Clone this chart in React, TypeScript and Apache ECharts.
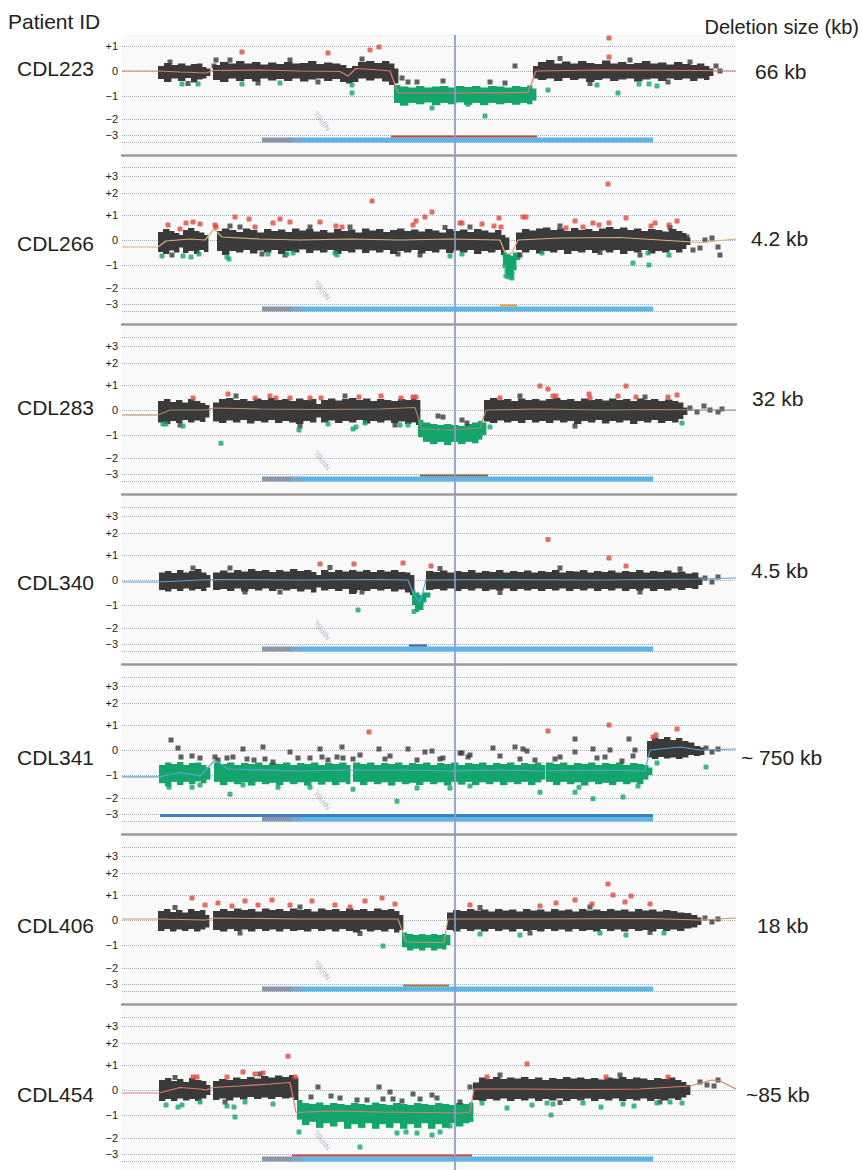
import React, { useEffect, useRef } from 'react';
import * as echarts from 'echarts';

// ---------------- data ----------------
const PATIENT_IDS = ['CDL223', 'CDL266', 'CDL283', 'CDL340', 'CDL341', 'CDL406', 'CDL454'];
const DELETION_SIZES = ['66 kb', '4.2 kb', '32 kb', '4.5 kb', '~ 750 kb', '18 kb', '~85 kb'];
const TICK_VALUES = [-3, -2, -1, 0, 1, 2, 3];
const TICK_LABELS = ['−3', '−2', '−1', '0', '+1', '+2', '+3'];
const GENE_NAME = 'NIPBL';
const GENE_SPAN = [262, 653];
const GENE_UTR_END = 292;
const MARK_POS = 455;
const DELETIONS = [[391, 537], [500, 517], [420, 488], [409, 427], [160, 653], [403, 449], [292, 472]];

// cloud columns: [position, low, high] (log2 ratio)
const P1_BLACK = [
  [[158,-0.32,0.2],[164,-0.44,0.32],[171,-0.3,0.24],[178,-0.4,0.3],[185,-0.28,0.22],[191,-0.46,0.28],[197,-0.34,0.3],[202,-0.3,0.16],[206,-0.2,0.1]],
  [[213,-0.36,0.24],[220,-0.44,0.36],[228,-0.3,0.3],[236,-0.4,0.4],[244,-0.32,0.3],[252,-0.42,0.36],[260,-0.3,0.26],[268,-0.38,0.34],[276,-0.32,0.28],[284,-0.4,0.36],[292,-0.3,0.3],[300,-0.42,0.32],[308,-0.34,0.4],[316,-0.3,0.28],[324,-0.4,0.34],[332,-0.32,0.3],[340,-0.44,0.24],[346,-0.5,0.12],[352,-0.44,0.2],[358,-0.3,0.36],[366,-0.38,0.4],[374,-0.3,0.32],[382,-0.42,0.4],[389,-0.56,0.3],[394,-0.5,0.1]],
  [[533,-0.3,0.2],[538,-0.36,0.36],[546,-0.3,0.44],[554,-0.4,0.3],[562,-0.28,0.38],[570,-0.36,0.3],[578,-0.3,0.4],[586,-0.44,0.32],[594,-0.36,0.28],[602,-0.3,0.42],[610,-0.4,0.3],[618,-0.34,0.36],[626,-0.3,0.28],[634,-0.42,0.32],[642,-0.34,0.4],[650,-0.3,0.3],[658,-0.4,0.34],[666,-0.3,0.26],[674,-0.36,0.36],[682,-0.3,0.28],[690,-0.4,0.24],[697,-0.3,0.3],[704,-0.36,0.2],[709,-0.2,0.1]],
];
const P1_GREEN = [
  [[394,-1.3,-0.56],[400,-1.42,-0.62],[408,-1.3,-0.66],[416,-1.36,-0.6],[424,-1.28,-0.66],[432,-1.4,-0.62],[440,-1.3,-0.6],[448,-1.36,-0.66],[456,-1.28,-0.6],[464,-1.38,-0.64],[472,-1.3,-0.6],[480,-1.4,-0.66],[488,-1.3,-0.6],[496,-1.36,-0.62],[504,-1.3,-0.66],[512,-1.38,-0.6],[520,-1.3,-0.64],[527,-1.36,-0.58],[532,-1.2,-0.7]],
];
const P1_RED = [[242,0.76],[328,0.72],[370,0.84],[379,0.96],[609,1.36],[609,0.56]];
const P1_GREEN_PTS = [[182,-0.52],[198,-0.52],[242,-0.52],[280,-0.48],[352,-0.56],[352,-0.88],[432,-1.52],[468,-1.36],[485,-1.87],[548,-0.76],[597,-0.56],[618,-0.88],[639,-0.52],[649,-0.52],[657,-0.6]];
const P1_DARK = [[216,0.44],[214,0.2],[402,-0.28],[408,-0.44],[417,-0.44],[443,-0.4],[490,-0.44],[505,-0.48],[515,0.2],[716,0.2],[706,-0.04],[700,0.04],[720,0],[170,0.36],[188,-0.5],[230,0.44],[258,-0.48],[290,0.44],[318,-0.44],[362,0.48],[560,0.5],[590,-0.5],[630,0.44],[668,-0.44],[690,0.36]];
const P1_TREND = [[122,0],[158,0],[180,-0.04],[206,-0.08],[213,0.02],[260,0.04],[300,0],[340,-0.02],[348,-0.2],[356,0.1],[380,0.04],[390,0],[398,-0.88],[460,-0.88],[528,-0.86],[536,0],[600,0.04],[700,0.02],[736,0]];

const P2_BLACK = [
  [[158,-0.48,0.32],[163,-0.56,0.44],[169,-0.42,0.36],[174,-0.5,0.28],[179,-0.3,0.2],[183,-0.52,0.4],[188,-0.44,0.48],[194,-0.56,0.36],[199,-0.4,0.3],[204,-0.48,0.2]],
  [[217,-0.44,0.36],[222,-0.6,0.46],[229,-0.44,0.4],[236,-0.5,0.32],[243,-0.4,0.46],[250,-0.54,0.4],[257,-0.42,0.3],[264,-0.5,0.44],[271,-0.4,0.36],[278,-0.56,0.42],[285,-0.44,0.32],[292,-0.5,0.46],[299,-0.38,0.38],[306,-0.52,0.44],[313,-0.42,0.34],[320,-0.5,0.4],[327,-0.4,0.3],[334,-0.56,0.44],[341,-0.44,0.36],[348,-0.5,0.42],[355,-0.38,0.3],[362,-0.52,0.46],[369,-0.42,0.38],[376,-0.5,0.44],[383,-0.4,0.32],[390,-0.56,0.4],[397,-0.44,0.46],[404,-0.5,0.36],[411,-0.4,0.42],[418,-0.54,0.34],[425,-0.44,0.44],[432,-0.5,0.38],[439,-0.38,0.3],[446,-0.52,0.44],[453,-0.42,0.36],[460,-0.5,0.42],[467,-0.4,0.32],[474,-0.56,0.44],[481,-0.44,0.38],[488,-0.5,0.3],[495,-0.4,0.4],[501,-0.6,0.2],[505,-0.4,0.1]],
  [[516,-0.4,0.3],[522,-0.5,0.44],[529,-0.4,0.38],[536,-0.54,0.46],[543,-0.44,0.5],[550,-0.5,0.4],[557,-0.4,0.46],[564,-0.56,0.36],[571,-0.44,0.48],[578,-0.5,0.4],[585,-0.4,0.44],[592,-0.52,0.36],[599,-0.42,0.46],[606,-0.5,0.52],[613,-0.4,0.44],[620,-0.56,0.5],[627,-0.44,0.4],[634,-0.5,0.46],[641,-0.4,0.36],[648,-0.54,0.44],[655,-0.44,0.4],[662,-0.5,0.34],[669,-0.4,0.44],[676,-0.5,0.36],[682,-0.36,0.28],[686,-0.2,0.1]],
];
const P2_GREEN = [[[503,-1.0,-0.5],[506,-1.5,-0.56],[510,-1.6,-0.64],[513,-1.2,-0.5],[516,-0.8,-0.5]]];
const P2_RED = [[168,0.6],[180,0.44],[186,0.68],[193,0.72],[200,0.64],[215,0.6],[216,0.52],[235,0.92],[249,0.84],[255,0.52],[273,0.68],[280,0.84],[290,0.72],[320,0.72],[336,0.56],[342,0.52],[372,1.64],[413,0.6],[416,0.76],[425,0.92],[432,1.14],[460,0.68],[462,0.68],[482,0.64],[494,0.56],[499,0.88],[501,0.52],[523,0.92],[526,0.92],[566,0.48],[575,0.76],[583,0.52],[593,0.68],[599,0.6],[608,2.53],[609,0.68],[626,0.88],[651,0.56],[655,0.68],[669,0.6],[677,0.76]];
const P2_GREEN_PTS = [[162,-0.64],[183,-0.64],[191,-0.68],[199,-0.56],[227,-0.68],[229,-0.76],[268,-0.56],[287,-0.56],[293,-0.52],[335,-0.52],[337,-0.6],[450,-0.64],[462,-0.56],[542,-0.52],[633,-0.92],[648,-0.52],[649,-1.0],[669,-0.6],[505,-0.6],[508,-0.8],[510,-1.04],[507,-1.26],[512,-1.35],[509,-1.52],[513,-0.88],[505,-1.04],[511,-0.72],[514,-1.13],[506,-1.48],[512,-1.56]];
const P2_DARK = [[230,0.56],[262,-0.56],[310,0.52],[398,-0.56],[445,0.5],[520,-0.6],[600,-0.5],[687,0.12],[693,-0.4],[700,-0.32],[705,0],[712,0.08],[718,-0.28],[720,-0.6],[172,-0.6],[240,0.52],[285,-0.6],[350,0.52],[420,-0.6],[470,0.52],[560,0.56],[640,-0.6],[670,0.5]];
const P2_TREND = [[122,-0.28],[158,-0.28],[166,-0.04],[190,0.04],[205,0],[214,0.44],[222,0.12],[260,0.04],[300,0],[350,0.04],[400,0],[450,0.04],[500,0],[506,-0.6],[512,-0.5],[518,0],[560,0.08],[620,0.1],[660,0],[700,-0.1],[736,0.04]];

const P3_BLACK = [
  [[158,-0.5,0.36],[164,-0.56,0.44],[170,-0.44,0.32],[176,-0.52,0.4],[182,-0.4,0.3],[188,-0.5,0.44],[194,-0.42,0.36],[200,-0.48,0.28],[205,-0.3,0.2]],
  [[213,-0.46,0.3],[219,-0.52,0.44],[226,-0.42,0.48],[233,-0.5,0.4],[240,-0.4,0.44],[247,-0.54,0.36],[254,-0.44,0.46],[261,-0.5,0.4],[268,-0.4,0.48],[275,-0.52,0.4],[282,-0.44,0.44],[289,-0.5,0.36],[296,-0.56,0.46],[303,-0.44,0.4],[310,-0.5,0.44],[316,-0.3,0.24],[321,-0.5,0.4],[328,-0.42,0.46],[335,-0.52,0.38],[342,-0.44,0.44],[349,-0.5,0.48],[356,-0.4,0.4],[363,-0.54,0.46],[370,-0.44,0.36],[377,-0.5,0.44],[384,-0.42,0.4],[391,-0.52,0.36],[398,-0.46,0.44],[405,-0.56,0.4],[411,-0.5,0.46],[416,-0.6,0.4]],
  [[484,-0.46,0.4],[490,-0.52,0.48],[497,-0.42,0.4],[504,-0.5,0.44],[511,-0.44,0.36],[518,-0.52,0.46],[525,-0.4,0.4],[532,-0.5,0.44],[539,-0.44,0.38],[546,-0.52,0.44],[553,-0.42,0.48],[560,-0.5,0.4],[567,-0.44,0.44],[574,-0.56,0.36],[581,-0.44,0.46],[588,-0.5,0.4],[595,-0.4,0.44],[602,-0.54,0.38],[609,-0.44,0.46],[616,-0.5,0.4],[623,-0.42,0.44],[630,-0.56,0.36],[637,-0.44,0.46],[644,-0.5,0.4],[651,-0.4,0.44],[658,-0.52,0.36],[665,-0.44,0.42],[672,-0.5,0.36],[678,-0.36,0.3],[683,-0.2,0.1]],
];
const P3_GREEN = [[[418,-1.1,-0.4],[423,-1.3,-0.5],[430,-1.4,-0.56],[437,-1.3,-0.6],[444,-1.44,-0.56],[451,-1.3,-0.6],[458,-1.4,-0.64],[465,-1.3,-0.56],[472,-1.36,-0.5],[478,-1.2,-0.44],[482,-1.0,-0.5]]];
const P3_RED = [[193,0.48],[228,0.64],[255,0.48],[270,0.56],[276,0.48],[290,0.48],[310,0.48],[321,0.48],[359,0.52],[381,0.56],[401,0.48],[413,0.52],[416,0.52],[500,0.48],[540,0.96],[548,0.84],[553,0.56],[556,0.56],[589,0.64],[590,0.48],[618,0.56],[626,0.96],[636,0.52],[668,0.52],[677,0.6]];
const P3_GREEN_PTS = [[163,-0.56],[166,-0.56],[183,-0.64],[221,-1.36],[299,-0.8],[328,-0.56],[353,-0.76],[356,-0.68],[365,-0.52],[400,-0.6],[408,-0.6],[490,-0.68],[682,-0.52]];
const P3_DARK = [[438,-0.24],[443,-0.28],[462,-0.4],[467,-0.52],[690,0.08],[697,-0.08],[704,0.16],[710,0],[718,-0.08],[722,0.04],[180,-0.6],[236,0.56],[300,-0.64],[345,0.56],[395,-0.6],[520,0.56],[575,-0.64],[645,0.52]];
const P3_TREND = [[122,-0.2],[158,-0.2],[170,0],[206,0],[214,0.08],[260,0.04],[320,0.02],[380,0.04],[415,0.1],[422,-0.76],[450,-0.8],[480,-0.72],[486,0],[540,0.04],[600,0],[660,0.02],[700,0],[736,0]];

const P4_BLACK = [
  [[159,-0.4,0.3],[165,-0.46,0.36],[171,-0.36,0.28],[177,-0.44,0.4],[183,-0.34,0.3],[189,-0.42,0.36],[195,-0.36,0.44],[201,-0.44,0.3],[206,-0.3,0.2]],
  [[213,-0.4,0.3],[220,-0.36,0.38],[227,-0.44,0.3],[234,-0.34,0.4],[241,-0.46,0.34],[248,-0.36,0.44],[255,-0.42,0.36],[262,-0.34,0.4],[269,-0.44,0.32],[276,-0.36,0.4],[283,-0.42,0.34],[290,-0.36,0.44],[297,-0.46,0.36],[304,-0.38,0.4],[311,-0.5,0.32],[316,-0.3,0.2],[321,-0.42,0.4],[328,-0.36,0.32],[335,-0.44,0.4],[342,-0.36,0.34],[349,-0.56,0.4],[356,-0.4,0.34],[363,-0.44,0.4],[370,-0.36,0.32],[377,-0.42,0.4],[384,-0.36,0.34],[391,-0.46,0.4],[398,-0.38,0.32],[405,-0.5,0.3],[410,-0.6,0.2]],
  [[426,-0.4,0.36],[433,-0.36,0.32],[440,-0.42,0.38],[447,-0.34,0.3],[454,-0.44,0.36],[461,-0.36,0.32],[468,-0.42,0.4],[475,-0.34,0.3],[482,-0.44,0.36],[489,-0.38,0.32],[496,-0.42,0.4],[503,-0.34,0.3],[510,-0.44,0.36],[517,-0.36,0.32],[524,-0.42,0.38],[531,-0.36,0.3],[538,-0.44,0.36],[545,-0.36,0.32],[552,-0.42,0.4],[559,-0.34,0.3],[566,-0.44,0.36],[573,-0.36,0.34],[580,-0.42,0.4],[587,-0.34,0.3],[594,-0.44,0.36],[601,-0.36,0.32],[608,-0.42,0.38],[615,-0.34,0.3],[622,-0.44,0.36],[629,-0.36,0.32],[636,-0.42,0.4],[643,-0.34,0.3],[650,-0.44,0.36],[657,-0.36,0.32],[664,-0.42,0.38],[671,-0.34,0.3],[678,-0.4,0.34],[685,-0.32,0.26],[692,-0.36,0.3],[698,-0.2,0.1]],
];
const P4_GREEN = [[[412,-1.0,-0.4],[415,-1.3,-0.5],[419,-1.22,-0.6],[423,-0.9,-0.5],[426,-0.7,-0.5]]];
const P4_RED = [[320,0.64],[354,0.64],[403,0.68],[431,0.56],[548,1.7],[609,0.88],[626,0.56]];
const P4_GREEN_PTS = [[358,-1.22],[414,-1.28],[418,-1.1],[421,-0.96]];
const P4_DARK = [[193,0.48],[245,-0.48],[355,-0.4],[362,-0.48],[705,0.08],[712,-0.08],[718,0.12],[230,0.48],[280,-0.48],[330,0.5],[440,0.46],[500,-0.5],[560,0.48],[640,-0.48],[680,0.44]];
const P4_TREND = [[122,-0.08],[158,-0.08],[200,0],[214,0.02],[300,0],[380,0.02],[408,0],[414,-0.6],[420,-0.9],[426,0],[500,0.02],[600,0],[700,0.04],[736,0.08]];

const P5_BLACK = [[[647,-0.3,0.36],[652,-0.36,0.5],[658,-0.28,0.44],[664,-0.34,0.52],[670,-0.3,0.4],[676,-0.36,0.48],[682,-0.3,0.36],[688,-0.2,0.3],[694,-0.24,0.16],[700,-0.2,0.1]]];
const P5_GREEN = [
  [[159,-1.36,-0.6],[165,-1.5,-0.5],[171,-1.3,-0.56],[177,-1.44,-0.48],[183,-1.3,-0.6],[189,-1.4,-0.52],[195,-1.28,-0.5],[201,-1.36,-0.6],[206,-1.2,-0.7]],
  [[214,-1.3,-0.5],[220,-1.44,-0.56],[227,-1.3,-0.5],[234,-1.4,-0.6],[241,-1.32,-0.52],[248,-1.46,-0.56],[255,-1.3,-0.5],[262,-1.4,-0.6],[269,-1.34,-0.52],[276,-1.44,-0.56],[283,-1.3,-0.5],[290,-1.4,-0.6],[297,-1.32,-0.52],[304,-1.46,-0.56],[311,-1.3,-0.5],[318,-1.42,-0.6],[325,-1.3,-0.52],[332,-1.44,-0.56],[339,-1.32,-0.5],[346,-1.4,-0.6]],
  [[353,-1.3,-0.5],[360,-1.44,-0.56],[367,-1.3,-0.5],[374,-1.4,-0.6],[381,-1.32,-0.52],[388,-1.46,-0.56],[395,-1.3,-0.5],[402,-1.4,-0.6],[409,-1.34,-0.52],[416,-1.44,-0.56],[423,-1.3,-0.5],[430,-1.4,-0.6],[437,-1.32,-0.52],[444,-1.46,-0.56],[451,-1.3,-0.5],[458,-1.42,-0.6],[465,-1.3,-0.52],[472,-1.44,-0.56],[479,-1.32,-0.5],[486,-1.4,-0.6],[493,-1.3,-0.52],[500,-1.44,-0.56],[507,-1.32,-0.5],[514,-1.4,-0.6],[521,-1.3,-0.52],[528,-1.44,-0.56],[535,-1.32,-0.5],[541,-1.2,-0.6]],
  [[546,-1.3,-0.5],[553,-1.44,-0.56],[560,-1.3,-0.5],[567,-1.4,-0.6],[574,-1.32,-0.52],[581,-1.46,-0.56],[588,-1.3,-0.5],[595,-1.4,-0.6],[602,-1.34,-0.52],[609,-1.44,-0.56],[616,-1.3,-0.5],[623,-1.4,-0.6],[630,-1.32,-0.52],[637,-1.4,-0.56],[643,-1.2,-0.6],[648,-1.0,-0.7]],
];
const P5_RED = [[369,0.72],[548,0.76],[609,1.0],[653,0.52],[656,0.6],[677,0.84]];
const P5_GREEN_PTS = [[169,-1.53],[192,-1.53],[200,-1.44],[230,-1.84],[243,-1.44],[278,-1.53],[310,-1.53],[353,-1.62],[397,-2.2],[417,-1.57],[450,-1.57],[470,-1.48],[540,-1.75],[575,-1.75],[579,-1.53],[593,-2.04],[623,-1.96],[638,-1.48],[657,-0.52],[706,-0.68]];
const P5_DARK = [[171,0.4],[178,0.08],[181,-0.28],[192,-0.24],[200,-0.32],[215,-0.28],[218,-0.4],[227,-0.32],[233,-0.28],[243,0.04],[247,-0.36],[254,-0.4],[263,0.12],[265,-0.36],[273,-0.48],[290,-0.08],[298,-0.32],[310,-0.32],[320,0.04],[322,-0.28],[328,-0.4],[337,-0.28],[342,0.12],[343,-0.32],[353,-0.36],[360,-0.2],[379,0.04],[385,-0.36],[390,-0.24],[408,0.04],[417,-0.4],[425,-0.08],[432,-0.04],[440,-0.36],[460,-0.12],[468,-0.28],[443,-0.32],[462,-0.12],[470,-0.2],[493,0.08],[500,-0.24],[515,0.12],[520,-0.36],[523,0.04],[527,-0.04],[535,-0.4],[555,-0.36],[560,-0.28],[575,0.44],[575,-0.08],[593,0.04],[597,-0.32],[605,-0.28],[610,0],[622,-0.44],[629,0.44],[633,-0.24],[635,0],[706,0.08],[712,-0.08],[718,0.04]];
const P5_TREND = [[122,-1.08],[159,-1.08],[180,-0.9],[200,-1.04],[215,-0.4],[228,-0.76],[300,-0.84],[350,-0.8],[400,-0.8],[450,-0.84],[500,-0.8],[540,-0.84],[600,-0.8],[645,-0.84],[650,0],[680,0.12],[700,0],[736,0.04]];

const P6_BLACK = [
  [[158,-0.44,0.36],[164,-0.36,0.44],[170,-0.46,0.32],[176,-0.38,0.4],[182,-0.44,0.3],[188,-0.36,0.44],[194,-0.46,0.36],[200,-0.38,0.4],[205,-0.3,0.2]],
  [[213,-0.4,0.36],[220,-0.46,0.44],[227,-0.36,0.36],[234,-0.44,0.46],[241,-0.38,0.4],[248,-0.46,0.44],[255,-0.36,0.34],[262,-0.44,0.46],[269,-0.38,0.4],[276,-0.46,0.44],[283,-0.36,0.36],[290,-0.44,0.46],[297,-0.4,0.4],[304,-0.46,0.44],[311,-0.36,0.34],[318,-0.44,0.46],[325,-0.38,0.4],[332,-0.46,0.44],[339,-0.36,0.36],[346,-0.44,0.46],[353,-0.5,0.4],[360,-0.38,0.44],[367,-0.46,0.36],[374,-0.4,0.46],[381,-0.46,0.4],[388,-0.36,0.44],[394,-0.5,0.36],[399,-0.4,0.2]],
  [[447,-0.4,0.3],[453,-0.46,0.4],[460,-0.36,0.36],[467,-0.44,0.44],[474,-0.38,0.38],[481,-0.46,0.42],[488,-0.36,0.34],[495,-0.44,0.44],[502,-0.38,0.38],[509,-0.46,0.42],[516,-0.36,0.34],[523,-0.44,0.44],[530,-0.4,0.38],[537,-0.46,0.42],[544,-0.36,0.34],[551,-0.44,0.44],[558,-0.38,0.38],[565,-0.46,0.42],[572,-0.36,0.34],[579,-0.44,0.44],[586,-0.4,0.38],[593,-0.46,0.42],[600,-0.36,0.36],[607,-0.44,0.44],[614,-0.38,0.38],[621,-0.46,0.42],[628,-0.36,0.34],[635,-0.44,0.44],[642,-0.4,0.38],[649,-0.46,0.42],[656,-0.36,0.34],[663,-0.44,0.4],[670,-0.38,0.36],[677,-0.44,0.3],[684,-0.34,0.28],[691,-0.3,0.2],[697,-0.2,0.1]],
];
const P6_GREEN = [[[402,-1.1,-0.5],[407,-1.24,-0.56],[413,-1.16,-0.6],[419,-1.24,-0.56],[425,-1.12,-0.6],[431,-1.24,-0.56],[437,-1.16,-0.6],[442,-1.2,-0.56],[446,-1.0,-0.6]]];
const P6_RED = [[192,0.88],[205,0.6],[218,0.68],[232,0.56],[245,0.76],[258,0.6],[272,0.8],[290,0.6],[312,0.76],[335,0.6],[350,0.52],[365,0.76],[382,0.88],[395,0.64],[470,0.6],[540,0.56],[556,0.68],[575,0.8],[592,0.64],[608,1.5],[613,1.0],[625,0.72],[631,0.96],[650,0.64]];
const P6_GREEN_PTS = [[383,-1.04],[480,-0.56],[520,-0.6],[600,-0.52],[626,-0.6],[664,-0.52]];
const P6_DARK = [[705,0.08],[712,-0.08],[718,0.04],[175,0.5],[240,-0.52],[300,0.52],[360,-0.54],[480,0.5],[530,-0.52],[590,0.52],[650,-0.5]];
const P6_TREND = [[122,0.04],[158,0.04],[206,0],[214,0.08],[300,0.04],[398,0.04],[406,-0.88],[444,-0.9],[448,0.04],[550,0.04],[650,0.06],[700,0],[736,0.08]];

const P7_BLACK = [
  [[159,-0.44,0.4],[165,-0.36,0.48],[171,-0.44,0.36],[177,-0.34,0.44],[183,-0.42,0.32],[189,-0.36,0.48],[195,-0.44,0.4],[201,-0.34,0.36],[206,-0.2,0.2]],
  [[213,-0.4,0.36],[219,-0.34,0.44],[226,-0.42,0.4],[233,-0.3,0.5],[240,-0.38,0.44],[247,-0.28,0.52],[254,-0.36,0.46],[261,-0.3,0.56],[268,-0.36,0.5],[275,-0.28,0.58],[282,-0.34,0.52],[289,-0.3,0.6],[294,-0.4,0.5]],
  [[473,-0.4,0.3],[479,-0.44,0.5],[486,-0.36,0.44],[493,-0.42,0.52],[500,-0.34,0.44],[507,-0.44,0.5],[514,-0.36,0.46],[521,-0.42,0.52],[528,-0.34,0.44],[535,-0.44,0.5],[542,-0.36,0.4],[549,-0.42,0.48],[556,-0.34,0.44],[563,-0.44,0.52],[570,-0.36,0.46],[577,-0.42,0.5],[584,-0.34,0.44],[591,-0.44,0.48],[598,-0.36,0.42],[605,-0.42,0.5],[612,-0.34,0.46],[619,-0.44,0.52],[626,-0.36,0.44],[633,-0.42,0.5],[640,-0.34,0.46],[647,-0.44,0.4],[654,-0.36,0.48],[661,-0.42,0.44],[668,-0.34,0.5],[675,-0.4,0.4],[681,-0.3,0.32],[686,-0.2,0.2]],
];
const P7_GREEN = [[[297,-1.2,-0.4],[302,-1.44,-0.52],[309,-1.3,-0.56],[316,-1.56,-0.5],[323,-1.36,-0.6],[330,-1.5,-0.52],[337,-1.3,-0.56],[344,-1.6,-0.6],[351,-1.4,-0.52],[358,-1.56,-0.56],[365,-1.36,-0.6],[372,-1.6,-0.5],[379,-1.4,-0.56],[386,-1.56,-0.6],[393,-1.36,-0.52],[400,-1.6,-0.56],[407,-1.4,-0.6],[414,-1.56,-0.52],[421,-1.36,-0.56],[428,-1.6,-0.6],[435,-1.4,-0.52],[442,-1.56,-0.56],[449,-1.36,-0.6],[456,-1.5,-0.52],[463,-1.36,-0.56],[469,-1.3,-0.5]]];
const P7_RED = [[193,0.52],[197,0.52],[227,0.52],[243,0.72],[255,0.64],[263,0.68],[288,1.4],[295,0.52],[487,0.52],[527,1.04],[606,0.52],[668,0.52]];
const P7_GREEN_PTS = [[166,-0.6],[178,-0.68],[182,-0.6],[200,-0.48],[227,-0.64],[234,-0.68],[235,-1.09],[245,-0.48],[273,-0.56],[299,-1.74],[360,-2.56],[397,-1.78],[406,-1.74],[417,-1.78],[432,-1.87],[440,-1.74],[450,-1.48],[482,-0.52],[507,-0.72],[532,-0.6],[547,-0.52],[553,-0.56],[551,-1.0],[583,-0.52],[601,-0.68],[623,-0.56],[634,-0.64],[657,-0.52],[670,-0.48],[682,-0.52]];
const P7_DARK = [[311,-0.28],[318,0.12],[331,-0.24],[340,-0.32],[357,-0.4],[367,-0.4],[379,0.12],[383,-0.36],[390,-0.08],[393,-0.36],[402,-0.44],[413,-0.16],[420,-0.36],[432,-0.2],[437,-0.32],[460,-0.48],[470,0.12],[700,0.32],[707,0.2],[714,0.16],[718,0.4],[175,0.5],[225,-0.48],[260,0.64],[500,0.6],[560,-0.5],[620,0.6],[660,-0.48]];
const P7_TREND = [[122,-0.12],[159,-0.12],[180,0.1],[200,0.04],[206,0],[213,0.1],[240,0.16],[270,0.24],[290,0.3],[296,-0.9],[330,-0.84],[380,-0.88],[420,-0.9],[460,-0.92],[470,-0.88],[474,0.04],[520,0.04],[580,0.02],[640,0.04],[690,0.16],[712,0.4],[720,0.36],[736,0.04]];

const BLACK = [P1_BLACK, P2_BLACK, P3_BLACK, P4_BLACK, P5_BLACK, P6_BLACK, P7_BLACK];
const GREEN = [P1_GREEN, P2_GREEN, P3_GREEN, P4_GREEN, P5_GREEN, P6_GREEN, P7_GREEN];
const RED_PTS = [P1_RED, P2_RED, P3_RED, P4_RED, P5_RED, P6_RED, P7_RED];
const GREEN_PTS = [P1_GREEN_PTS, P2_GREEN_PTS, P3_GREEN_PTS, P4_GREEN_PTS, P5_GREEN_PTS, P6_GREEN_PTS, P7_GREEN_PTS];
const DARK_PTS = [P1_DARK, P2_DARK, P3_DARK, P4_DARK, P5_DARK, P6_DARK, P7_DARK];
const TRENDS = [P1_TREND, P2_TREND, P3_TREND, P4_TREND, P5_TREND, P6_TREND, P7_TREND];

// ---------------- layout / style ----------------
const W = 862, H = 1170;
const ZERO_Y = [71, 240, 410, 580, 750, 920, 1090];
const SEP = 84;
const FIRST_TOP = 35;
const X_MIN = 122, X_MAX = 736;
const TICK_OFFSETS = [-64, -48, -25, 0, 25, 47, 64];
const EXTRA_GUIDES = [73, -71];
const GENE_LANE = -69, DEL_LANE = -65.5, GENE_LABEL_LANE = -50;
const ID_Y = [68, 243, 407, 582, 757, 925, 1094];
const SIZE_X = [755, 751, 752, 751, 741, 757, 746];
const SIZE_Y = [71, 238, 398, 570, 757, 925, 1094];
const TREND_COLORS = ['#de7a6c', '#d6b27a', '#a8876a', '#5aa3d6', '#5aa3d6', '#c99a6a', '#e07d70'];
const DEL_COLORS = ['#c24a40', '#e3a044', '#8a6248', '#3d6f9e', '#3b80c4', '#a9743f', '#c24a40'];
const FONT = '"Liberation Sans", Arial, Helvetica, sans-serif';
const C_DARK = '#3a3a3a', C_GREEN = '#14a56c', C_RED = '#e2473d';

// piecewise-linear ratio scale (compressive beyond ±1)
function disp(v: number): number {
  const t = TICK_VALUES, o = TICK_OFFSETS;
  if (v <= t[0]) return o[0] + (v - t[0]) * (o[1] - o[0]);
  for (let i = 0; i < t.length - 1; i++) {
    if (v <= t[i + 1]) return o[i] + (v - t[i]) / (t[i + 1] - t[i]) * (o[i + 1] - o[i]);
  }
  const n = t.length - 1;
  return o[n] + (v - t[n]) * (o[n] - o[n - 1]);
}

function columns(segs: number[][][]) {
  const out: number[][] = [];
  segs.forEach(seg => {
    seg.forEach((s, i) => {
      const next = i < seg.length - 1 ? seg[i + 1][0] : s[0] + 4;
      out.push([s[0], disp(s[1]), disp(s[2]), next + 0.4]);
    });
  });
  return out;
}

function bandSeries(segs: number[][][], idx: number, color: string) {
  return {
    type: 'custom', xAxisIndex: idx, yAxisIndex: idx, silent: true, z: 2, clip: true,
    encode: { x: [0, 3], y: [1, 2] },
    data: columns(segs),
    renderItem: (params: any, api: any) => {
      const a = api.coord([api.value(0), api.value(2)]);
      const b = api.coord([api.value(3), api.value(1)]);
      return { type: 'rect', shape: { x: a[0], y: a[1], width: b[0] - a[0], height: b[1] - a[1] }, style: { fill: color } };
    },
  };
}

function laneLine(i: number, from: number, to: number, lane: number, width: number, color: string, z: number) {
  return {
    type: 'line', xAxisIndex: i, yAxisIndex: i, silent: true, z, symbol: 'none',
    data: [[from, lane], [to, lane]],
    lineStyle: { width, color, cap: 'butt' },
  };
}

function buildOption() {
  const grids: any[] = [], xAxes: any[] = [], yAxes: any[] = [], series: any[] = [];
  const graphics: any[] = [];
  ZERO_Y.forEach((z, i) => {
    const top = i === 0 ? FIRST_TOP : ZERO_Y[i - 1] + SEP;
    const bottom = Math.min(z + SEP, H);
    grids.push({ left: X_MIN, width: X_MAX - X_MIN, top, height: bottom - top, show: true, backgroundColor: '#f9f9f9', borderWidth: 0 });
    xAxes.push({
      type: 'value', gridIndex: i, min: X_MIN, max: X_MAX, position: 'bottom',
      axisLine: { show: z + SEP <= H, onZero: false, lineStyle: { color: '#9b9b9b', width: 2.5 } },
      axisTick: { show: false }, axisLabel: { show: false }, splitLine: { show: false },
    });
    const yMax = z - top, yMin = z - bottom;
    yAxes.push({ type: 'value', gridIndex: i, min: yMin, max: yMax, show: false, splitLine: { show: false } });

    const guides: any[] = [];
    TICK_OFFSETS.forEach((off, k) => {
      if (off < yMax - 2 && off > yMin) guides.push({ yAxis: off, label: { show: true, formatter: TICK_LABELS[k] } });
    });
    EXTRA_GUIDES.forEach(off => { if (off < yMax - 2 && off > yMin) guides.push({ yAxis: off, label: { show: false } }); });

    // gene lane (untranslated part grey, coding part light blue)
    series.push(laneLine(i, GENE_SPAN[0], GENE_UTR_END, GENE_LANE, 5, '#8a97a8', 2));
    series.push(laneLine(i, GENE_UTR_END - 1, GENE_UTR_END + 10, GENE_LANE, 5, '#76a7cf', 2));
    series.push({
      ...laneLine(i, GENE_UTR_END + 9, GENE_SPAN[1], GENE_LANE, 5, '#5db6e6', 2),
      markLine: {
        silent: true, symbol: ['none', 'none'], z: 10,
        label: { show: false },
        lineStyle: { color: '#8c99c9', width: 2, type: 'solid', opacity: 0.85 },
        data: [{ xAxis: MARK_POS }],
      },
    });
    // deletion lane
    series.push(laneLine(i, DELETIONS[i][0], DELETIONS[i][1], DEL_LANE, i === 4 ? 3 : 2.2, DEL_COLORS[i], 3));
    // gene label
    series.push({
      type: 'scatter', xAxisIndex: i, yAxisIndex: i, silent: true, z: 2, symbolSize: 1,
      itemStyle: { color: 'transparent' },
      data: [[322, GENE_LABEL_LANE]],
      label: { show: true, position: 'inside', formatter: GENE_NAME, rotate: 128, fontSize: 8, color: '#a3aabb', fontFamily: FONT },
    });
    // clouds
    series.push(bandSeries(BLACK[i], i, C_DARK));
    series.push(bandSeries(GREEN[i], i, C_GREEN));
    series.push({
      type: 'scatter', xAxisIndex: i, yAxisIndex: i, silent: true, z: 3, symbol: 'rect', symbolSize: 5,
      itemStyle: { color: C_DARK }, data: DARK_PTS[i].map(p => [p[0], disp(p[1])]),
    });
    // trend line with guides
    series.push({
      type: 'line', xAxisIndex: i, yAxisIndex: i, silent: true, z: 4, symbol: 'none',
      data: TRENDS[i].map(p => [p[0], disp(p[1])]),
      lineStyle: { width: 1.2, color: TREND_COLORS[i] },
      markLine: {
        silent: true, symbol: ['none', 'none'], z: 1,
        lineStyle: { color: '#a3abbd', width: 1, type: 'dotted' },
        label: { position: 'start', distance: 4, fontSize: 11, color: '#222', fontFamily: FONT },
        data: guides,
      },
    });
    series.push({
      type: 'scatter', xAxisIndex: i, yAxisIndex: i, silent: true, z: 5, symbol: 'roundRect', symbolSize: 5,
      itemStyle: { color: C_GREEN }, data: GREEN_PTS[i].map(p => [p[0], disp(p[1])]),
    });
    series.push({
      type: 'scatter', xAxisIndex: i, yAxisIndex: i, silent: true, z: 5, symbol: 'roundRect', symbolSize: 5,
      itemStyle: { color: C_RED }, data: RED_PTS[i].map(p => [p[0], disp(p[1])]),
    });

    graphics.push({ type: 'text', x: 17, y: ID_Y[i], style: { text: PATIENT_IDS[i], fill: '#222', font: `21px ${FONT}`, verticalAlign: 'middle', align: 'left' } });
    graphics.push({ type: 'text', x: SIZE_X[i], y: SIZE_Y[i], style: { text: DELETION_SIZES[i], fill: '#222', font: `21px ${FONT}`, verticalAlign: 'middle', align: 'left' } });
  });
  graphics.push({ type: 'text', x: 8, y: 21, style: { text: 'Patient ID', fill: '#222', font: `21px ${FONT}`, verticalAlign: 'middle', align: 'left' } });
  graphics.push({ type: 'text', x: 859, y: 27, style: { text: 'Deletion size (kb)', fill: '#222', font: `20px ${FONT}`, verticalAlign: 'middle', align: 'right' } });

  return {
    animation: false,
    backgroundColor: '#ffffff',
    textStyle: { fontFamily: FONT },
    grid: grids, xAxis: xAxes, yAxis: yAxes, series, graphic: graphics,
  };
}

export default function App() {
  const ref = useRef<HTMLDivElement>(null);
  useEffect(() => {
    document.body.style.margin = '0';
    if (!ref.current) return;
    const chart = echarts.init(ref.current, null, { renderer: 'svg', width: W, height: H });
    chart.setOption(buildOption() as any);
    return () => chart.dispose();
  }, []);
  return <div ref={ref} style={{ width: W, height: H }} />;
}
